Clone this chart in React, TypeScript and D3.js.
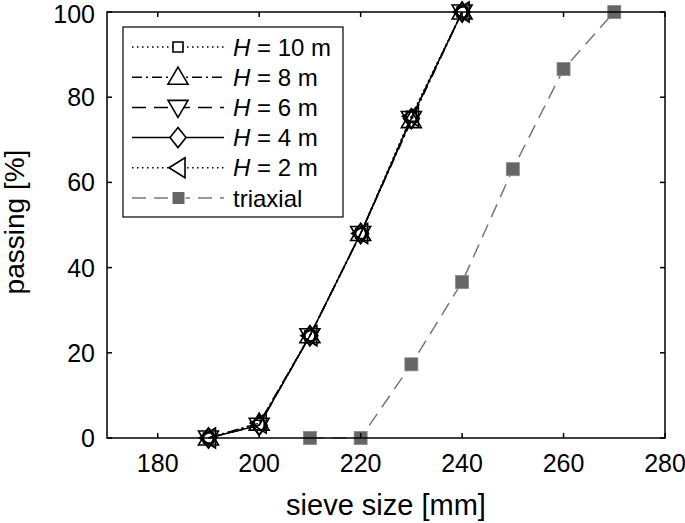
import * as d3 from "d3";

const sieve = [190, 200, 210, 220, 230, 240];
const h10 = [0, 3, 24, 48, 75.5, 100];
const h8 = [0, 3.5, 24, 48, 74.5, 100];
const h6 = [0, 3, 24, 48, 75, 100];
const h4 = [0, 3, 24, 48, 75, 100];
const h2 = [0, 3.5, 24, 48, 75.5, 100];
const triaxialSieve = [210, 220, 230, 240, 250, 260, 270];
const triaxial = [0, 0, 17.3, 36.6, 63.1, 86.6, 100];
const xTicks = [180, 200, 220, 240, 260, 280];
const yTicks = [0, 20, 40, 60, 80, 100];

const W = 685;
const H = 523;
const left = 107, right = 665, top = 12, bottom = 438;

const x = d3.scaleLinear().domain([170, 280]).range([left, right]);
const y = d3.scaleLinear().domain([0, 100]).range([bottom, top]);

const series = [
  { label: "10", values: h10, dash: "1.5,3.5", marker: "square" },
  { label: "8", values: h8, dash: "10,4,2,4", marker: "up" },
  { label: "6", values: h6, dash: "14,8", marker: "down" },
  { label: "4", values: h4, dash: "", marker: "diamond" },
  { label: "2", values: h2, dash: "1.5,3.5", marker: "left" },
];

const markerPath = (kind: string) => {
  switch (kind) {
    case "square":
      return "M-5,-5h10v10h-10Z";
    case "up":
      return "M0,-10L10,7L-10,7Z";
    case "down":
      return "M0,10L10,-7L-10,-7Z";
    case "diamond":
      return "M0,-10L8,0L0,10L-8,0Z";
    default:
      return "M-9,0L7,-10L7,10Z";
  }
};

const App = () => {
  const line = d3
    .line<[number, number]>()
    .x((d) => x(d[0]))
    .y((d) => y(d[1]));

  const legendRows = [
    ...series.map((s) => ({ ...s, gray: false })),
    { label: "triaxial", values: [], dash: "14,8", marker: "filled", gray: true },
  ];

  return (
    <svg width={W} height={H} style={{ position: "absolute", left: 0, top: 0, fontFamily: "Liberation Sans, Arial, sans-serif" }}>
      <rect width={W} height={H} fill="#fff" />
      {/* triaxial */}
      <path
        d={line(triaxialSieve.map((v, i) => [v, triaxial[i]] as [number, number])) ?? ""}
        fill="none"
        stroke="#777"
        strokeWidth={1.5}
        strokeDasharray="14,8"
      />
      {triaxialSieve.map((v, i) => (
        <rect key={i} x={x(v) - 6.5} y={y(triaxial[i]) - 6.5} width={13} height={13} fill="#666" stroke="#888" strokeWidth={0.8} />
      ))}
      {/* H series */}
      {series.map((s) => (
        <g key={s.label}>
          <path
            d={line(sieve.map((v, i) => [v, s.values[i]] as [number, number])) ?? ""}
            fill="none"
            stroke="#000"
            strokeWidth={1.5}
            strokeDasharray={s.dash || undefined}
          />
          {sieve.map((v, i) => (
            <path
              key={i}
              d={markerPath(s.marker)}
              transform={`translate(${x(v)},${y(s.values[i])})`}
              fill="none"
              stroke="#000"
              strokeWidth={1.6}
            />
          ))}
        </g>
      ))}
      {/* frame */}
      <rect x={left} y={top} width={right - left} height={bottom - top} fill="none" stroke="#000" strokeWidth={1.5} />
      {xTicks.map((t) => (
        <g key={t}>
          <line x1={x(t)} x2={x(t)} y1={bottom} y2={bottom - 5} stroke="#000" strokeWidth={1.5} />
          <line x1={x(t)} x2={x(t)} y1={top} y2={top + 5} stroke="#000" strokeWidth={1.5} />
          <text x={x(t)} y={472} textAnchor="middle" fontSize={25}>
            {t}
          </text>
        </g>
      ))}
      {yTicks.map((t) => (
        <g key={t}>
          <line x1={left} x2={left + 5} y1={y(t)} y2={y(t)} stroke="#000" strokeWidth={1.5} />
          <line x1={right} x2={right - 5} y1={y(t)} y2={y(t)} stroke="#000" strokeWidth={1.5} />
          <text x={left - 12} y={Math.max(y(t) + 9, 23)} textAnchor="end" fontSize={25}>
            {t}
          </text>
        </g>
      ))}
      <text x={386} y={515} textAnchor="middle" fontSize={29}>
        sieve size [mm]
      </text>
      <text transform={`translate(24,222) rotate(-90)`} textAnchor="middle" fontSize={28}>
        passing [%]
      </text>
      {/* legend */}
      <rect x={123} y={27} width={220} height={190} fill="#fff" stroke="#000" strokeWidth={1.2} />
      {legendRows.map((r, i) => {
        const ly = 47 + i * 30.2;
        return (
          <g key={r.label}>
            <line
              x1={132}
              x2={224}
              y1={ly}
              y2={ly}
              stroke={r.gray ? "#777" : "#000"}
              strokeWidth={1.5}
              strokeDasharray={r.dash || undefined}
            />
            {r.gray ? (
              <rect x={172} y={ly - 6.5} width={13} height={13} fill="#666" stroke="#fff" strokeWidth={1} />
            ) : (
              <path d={markerPath(r.marker)} transform={`translate(178,${ly})`} fill="#fff" stroke="#000" strokeWidth={1.6} />
            )}
            <text x={233} y={ly + 8.5} fontSize={24}>
              {r.gray ? (
                "triaxial"
              ) : (
                <>
                  <tspan fontStyle="italic">H</tspan> = {r.label} m
                </>
              )}
            </text>
          </g>
        );
      })}
    </svg>
  );
};

export default App;
